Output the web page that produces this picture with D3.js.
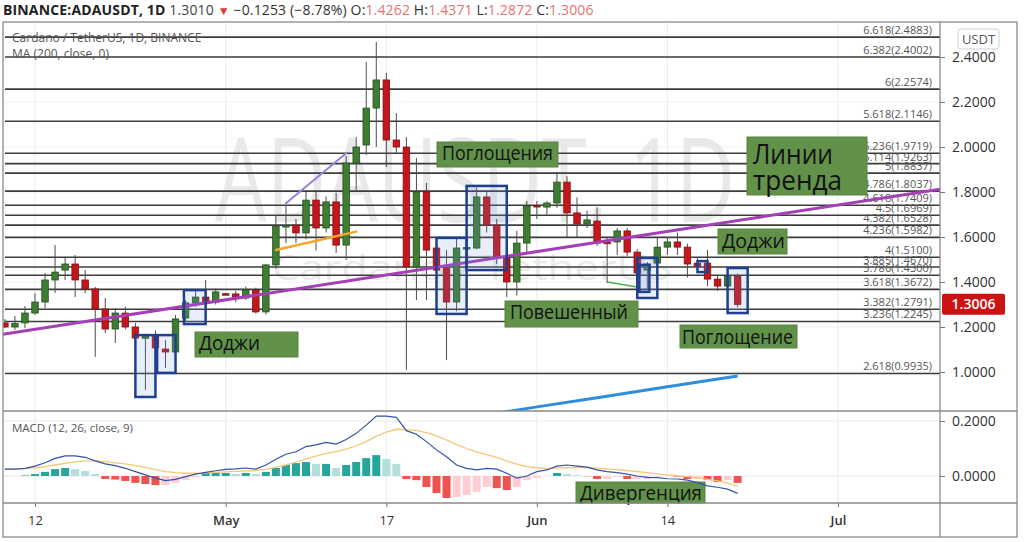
<!DOCTYPE html>
<html lang="en">
<head>
<meta charset="utf-8">
<script src="https://cdn.jsdelivr.net/npm/d3@7"></script>
<style>
  body { margin: 0; background: #fff; }
  svg { display: block; font-family: "Open Sans", "Noto Sans", sans-serif; }
</style>
</head>
<body>
<svg id="chart" width="1024" height="542"></svg>
<script>
// ---- data (ADAUSDT, 1D, Apr 9 .. Jun 21 2021) ----
const firstDay = "2021-04-09", lastDay = "2021-06-21";

const opens = [
  1.218, 1.200, 1.218, 1.262, 1.311, 1.409, 1.453, 1.480, 1.409, 1.369, 1.280, 1.191, 1.262, 1.200, 1.150, 1.164, 1.102, 1.089, 1.240, 1.307, 1.333, 1.311,
  1.348, 1.347, 1.329, 1.364, 1.267, 1.476, 1.649, 1.653, 1.618, 1.764, 1.640, 1.756, 1.564, 1.929, 2.009, 2.173, 2.298, 2.031, 2.000, 1.467, 1.800, 1.551, 1.462, 1.311, 1.551, 1.551, 1.778, 1.653, 1.507, 1.400, 1.573,
  1.740, 1.733, 1.751, 1.844, 1.707, 1.658, 1.671, 1.577, 1.578, 1.627, 1.533, 1.453, 1.484, 1.555, 1.578, 1.555, 1.484, 1.484, 1.413, 1.382, 1.4262
];
const highs = [
  1.235, 1.249, 1.293, 1.351, 1.440, 1.564, 1.507, 1.520, 1.453, 1.378, 1.329, 1.284, 1.290, 1.218, 1.170, 1.185, 1.142, 1.253, 1.320, 1.360, 1.409, 1.370,
  1.352, 1.360, 1.380, 1.375, 1.480, 1.698, 1.742, 1.680, 1.800, 1.800, 1.780, 1.796, 1.960, 2.044, 2.378, 2.467, 2.329, 2.151, 2.044, 1.951, 1.840, 1.600, 1.542, 1.600, 1.560, 1.820, 1.800, 1.680, 1.520, 1.627, 1.760,
  1.760, 1.760, 1.890, 1.870, 1.776, 1.716, 1.733, 1.600, 1.640, 1.640, 1.545, 1.489, 1.595, 1.600, 1.620, 1.570, 1.510, 1.542, 1.430, 1.440, 1.4371
];
const lows = [
  1.195, 1.187, 1.196, 1.255, 1.284, 1.351, 1.409, 1.333, 1.351, 1.067, 1.173, 1.129, 1.190, 1.140, 0.920, 1.095, 1.018, 1.080, 1.225, 1.290, 1.300, 1.300,
  1.342, 1.310, 1.320, 1.260, 1.255, 1.460, 1.573, 1.573, 1.590, 1.540, 1.620, 1.529, 1.498, 1.809, 1.964, 2.000, 1.911, 1.973, 1.009, 1.320, 1.320, 1.400, 1.053, 1.270, 1.545, 1.545, 1.620, 1.480, 1.333, 1.340, 1.530,
  1.680, 1.700, 1.730, 1.600, 1.600, 1.640, 1.560, 1.395, 1.520, 1.515, 1.430, 1.364, 1.450, 1.520, 1.520, 1.420, 1.440, 1.382, 1.360, 1.330, 1.2872
];
const closes = [
  1.200, 1.215, 1.262, 1.311, 1.409, 1.444, 1.480, 1.409, 1.369, 1.280, 1.191, 1.262, 1.200, 1.151, 1.162, 1.107, 1.089, 1.236, 1.307, 1.333, 1.307, 1.356,
  1.346, 1.329, 1.364, 1.267, 1.476, 1.649, 1.651, 1.618, 1.764, 1.640, 1.756, 1.564, 1.929, 2.000, 2.173, 2.298, 2.031, 2.000, 1.467, 1.800, 1.542, 1.453, 1.311, 1.551, 1.553, 1.778, 1.653, 1.507, 1.400, 1.573, 1.738,
  1.736, 1.751, 1.844, 1.707, 1.658, 1.676, 1.573, 1.570, 1.627, 1.533, 1.440, 1.480, 1.555, 1.578, 1.555, 1.480, 1.470, 1.413, 1.382, 1.4262, 1.3006
];

const macdLine = [
  0.025, 0.025, 0.028, 0.036, 0.048, 0.064, 0.073, 0.073, 0.068, 0.055, 0.044, 0.038, 0.028, 0.016, 0.004, -0.008, -0.017, -0.012, -0.002, 0.007, 0.013, 0.019,
  0.024, 0.026, 0.029, 0.025, 0.040, 0.061, 0.079, 0.088, 0.107, 0.113, 0.122, 0.116, 0.133, 0.155, 0.185, 0.218, 0.218, 0.213, 0.165, 0.152, 0.125, 0.095, 0.070, 0.040, 0.028, 0.022, 0.028, 0.025, 0.010, -0.008, 0.000,
  0.016, 0.022, 0.036, 0.040, 0.036, 0.032, 0.022, 0.016, 0.012, 0.007, 0.000, -0.005, -0.006, -0.010, -0.011, -0.015, -0.024, -0.036, -0.041, -0.048, -0.063
];
const signalLine = [
  0.025, 0.026, 0.027, 0.030, 0.034, 0.040, 0.046, 0.051, 0.055, 0.055, 0.052, 0.048, 0.044, 0.038, 0.031, 0.023, 0.016, 0.012, 0.010, 0.010, 0.011, 0.013,
  0.015, 0.017, 0.019, 0.020, 0.024, 0.031, 0.040, 0.050, 0.062, 0.072, 0.082, 0.089, 0.098, 0.110, 0.125, 0.144, 0.160, 0.170, 0.169, 0.166, 0.158, 0.146, 0.131, 0.114, 0.100, 0.088, 0.078, 0.068, 0.055, 0.043, 0.034,
  0.030, 0.028, 0.029, 0.030, 0.031, 0.031, 0.029, 0.026, 0.023, 0.020, 0.016, 0.012, 0.008, 0.004, 0.001, -0.002, -0.007, -0.012, -0.018, -0.025, -0.038
];
const macdHist = [
  -0.002, -0.001, 0.002, 0.007, 0.015, 0.025, 0.029, 0.025, 0.018, 0.007, -0.011, -0.013, -0.018, -0.025, -0.029, -0.033, -0.033, -0.025, -0.015, -0.004, 0.011, 0.011,
  0.011, 0.007, 0.011, 0.007, 0.015, 0.029, 0.040, 0.047, 0.051, 0.044, 0.044, 0.029, 0.040, 0.051, 0.065, 0.076, 0.062, 0.044, -0.011, -0.015, -0.040, -0.062, -0.080, -0.076, -0.069, -0.058, -0.040, -0.044, -0.051, -0.040, -0.015,
  -0.007, 0.000, 0.011, 0.007, 0.003, -0.001, -0.011, -0.011, -0.003, -0.011, -0.011, -0.011, -0.002, -0.001, -0.002, -0.011, -0.011, -0.015, -0.022, -0.015, -0.025
];

// MA(200) visible at the bottom of the price pane
const maDates = ["2021-05-27", "2021-06-01", "2021-06-07", "2021-06-14", "2021-06-21"];
const maValues = [0.810, 0.845, 0.886, 0.934, 0.982];

// fibonacci extension levels
const fibRatios = ["6.618", "6.382", "6", "5.618", "5.236", "5.114", "5", "4.786", "4.618", "4.5", "4.382", "4.236", "4", "3.885", "3.786", "3.618", "3.382", "3.236", "2.618"];
const fibPrices = [2.4883, 2.4002, 2.2574, 2.1146, 1.9719, 1.9263, 1.8837, 1.8037, 1.7409, 1.6969, 1.6528, 1.5982, 1.5100, 1.4670, 1.4300, 1.3672, 1.2791, 1.2245, 0.9935];

const priceTicks = [1.0, 1.2, 1.4, 1.6, 1.8, 2.0, 2.2, 2.4];
const macdTicks = [0, 0.2];
const timeTicks = ["2021-04-12", "2021-05-01", "2021-05-17", "2021-06-01", "2021-06-14", "2021-07-01"];
const timeLabels = ["12", "May", "17", "Jun", "14", "Jul"];

// drawings on the chart: [date, price] end points
const trendLine = [["2021-04-08", 1.162], ["2021-07-12", 1.818]];
const orangeLine = [["2021-05-06", 1.542], ["2021-05-14", 1.624]];
const lavenderLine = [["2021-05-07", 1.750], ["2021-05-13", 1.972]];
const greenTick = [["2021-06-08", 1.400], ["2021-06-11", 1.378]];
// highlight boxes: [from, to, top price, bottom price]
const boxes = [
  ["2021-04-22", "2021-04-24", 1.164, 0.889],
  ["2021-04-24T04:00Z", "2021-04-26", 1.164, 0.996],
  ["2021-04-26T20:00Z", "2021-04-29", 1.364, 1.213],
  ["2021-05-22", "2021-05-25", 1.596, 1.258],
  ["2021-05-25", "2021-05-29", 1.827, 1.453],
  ["2021-06-11", "2021-06-13", 1.507, 1.329],
  ["2021-06-11T05:00Z", "2021-06-12T05:00Z", 1.476, 1.356],
  ["2021-06-17", "2021-06-18", 1.493, 1.444],
  ["2021-06-20", "2021-06-22", 1.462, 1.262]
];

// ---- layout ----
const svg = d3.select("#chart");
const L = 3, R = 940, OUTR = 1017, TOP = 22, MAINB = 411, MACDB = 503, BOT = 537;

const days = d3.utcDay.range(d3.isoParse(firstDay), d3.utcDay.offset(d3.isoParse(lastDay), 1));
const x = d3.scaleUtc().domain([d3.isoParse("2021-04-12"), d3.isoParse("2021-07-01")]).range([35, 838]);
const y = d3.scaleLinear().domain([1.0, 2.4]).range([372, 57]);
const ym = d3.scaleLinear().domain([0, 0.2]).range([476, 421]);

const defs = svg.append("defs");
defs.append("clipPath").attr("id", "clipMain").append("rect")
  .attr("x", L).attr("y", TOP).attr("width", R - L).attr("height", MAINB - TOP);
defs.append("clipPath").attr("id", "clipMacd").append("rect")
  .attr("x", L).attr("y", MAINB).attr("width", R - L).attr("height", MACDB - MAINB);

svg.append("rect").attr("width", 1024).attr("height", 542).attr("fill", "#fff");

// header
const head = svg.append("text").attr("x", 3).attr("y", 15).attr("font-size", 14).attr("fill", "#222")
  .attr("letter-spacing", 0.15);
head.append("tspan").attr("font-weight", 700).text("BINANCE:ADAUSDT, 1D");
head.append("tspan").attr("fill", "#444").text("  1.3010 ");
head.append("tspan").attr("fill", "#e53935").attr("font-size", 12).text("▼");
head.append("tspan").attr("fill", "#333").text(" −0.1253 (−8.78%) ");
[["O:", "1.4262"], ["H:", "1.4371"], ["L:", "1.2872"], ["C:", "1.3006"]].forEach(([k, v]) => {
  head.append("tspan").attr("fill", "#333").text(" " + k);
  head.append("tspan").attr("fill", "#e57373").text(v);
});

// grid
const grid = svg.append("g");
timeTicks.forEach(t => {
  grid.append("line").attr("x1", x(d3.isoParse(t))).attr("x2", x(d3.isoParse(t)))
    .attr("y1", TOP).attr("y2", MACDB).attr("stroke", "#ececec");
});
priceTicks.forEach(p => {
  grid.append("line").attr("x1", L).attr("x2", R).attr("y1", y(p)).attr("y2", y(p)).attr("stroke", "#f0f0f0");
});
macdTicks.forEach(v => {
  grid.append("line").attr("x1", L).attr("x2", R).attr("y1", ym(v)).attr("y2", ym(v)).attr("stroke", "#ececec");
});

// main pane
const main = svg.append("g").attr("clip-path", "url(#clipMain)");

main.append("text").attr("x", 215).attr("y", 222).attr("font-size", 118)
  .attr("textLength", 520).attr("lengthAdjust", "spacingAndGlyphs")
  .attr("fill", "#e9e9e9").text("ADAUSDT, 1D");
main.append("text").attr("x", 272).attr("y", 280).attr("font-size", 34)
  .attr("textLength", 400).attr("lengthAdjust", "spacingAndGlyphs")
  .attr("fill", "#eaeaea").text("Cardano / TetherUS");

// fib levels
const fib = main.append("g");
fibPrices.forEach((p, i) => {
  fib.append("line").attr("x1", L + 2).attr("x2", R).attr("y1", y(p)).attr("y2", y(p))
    .attr("stroke", "#3c3c3c").attr("stroke-width", 1.6);
  fib.append("text").attr("x", R - 8).attr("y", y(p) - 3).attr("text-anchor", "end")
    .attr("font-size", 11).attr("fill", "#555").text(`${fibRatios[i]}(${p.toFixed(4)})`);
});

// legend
svg.append("text").attr("x", 12).attr("y", 42).attr("font-size", 12).attr("fill", "#555")
  .text("Cardano / TetherUS, 1D, BINANCE");
svg.append("text").attr("x", 12).attr("y", 58).attr("font-size", 12).attr("fill", "#555")
  .text("MA (200, close, 0)");

// MA 200
const pt = d => [x(d3.isoParse(d[0])), y(d[1])];
main.append("path")
  .attr("d", d3.line()(maDates.map((d, i) => pt([d, maValues[i]]))))
  .attr("fill", "none").attr("stroke", "#2f8ddb").attr("stroke-width", 3);

// candles
const bw = 6.5;
const candles = main.append("g");
days.forEach((d, i) => {
  const cx = x(d), up = closes[i] >= opens[i];
  candles.append("line").attr("x1", cx).attr("x2", cx).attr("y1", y(highs[i])).attr("y2", y(lows[i]))
    .attr("stroke", "#4d4d4d").attr("stroke-width", 1);
  const y0 = y(Math.max(opens[i], closes[i])), y1 = y(Math.min(opens[i], closes[i]));
  candles.append("rect").attr("x", cx - bw / 2).attr("y", y0).attr("width", bw).attr("height", Math.max(1.5, y1 - y0))
    .attr("fill", up ? "#3f7d33" : "#c4161c").attr("stroke", up ? "#24501d" : "#86100f").attr("stroke-width", 0.8);
});

// drawings
const drawLine = (pts, color, w) => main.append("path").attr("d", d3.line()(pts.map(pt)))
  .attr("fill", "none").attr("stroke", color).attr("stroke-width", w).attr("stroke-linecap", "round");
drawLine(trendLine, "#a43fb6", 3);
drawLine(orangeLine, "#f4a62a", 2.5);
drawLine(lavenderLine, "#9a7fdc", 2);
drawLine(greenTick, "#4caf50", 1.5);

boxes.forEach(b => {
  const x0 = x(d3.isoParse(b[0])), x1 = x(d3.isoParse(b[1]));
  main.append("rect").attr("x", x0).attr("y", y(b[2])).attr("width", x1 - x0).attr("height", y(b[3]) - y(b[2]))
    .attr("fill", "rgba(110,150,225,0.16)").attr("stroke", "#1f3f8f").attr("stroke-width", 2.5);
});

// green callouts (layout positions)
const callouts = [
  { box: [195, 332, 103, 25], lines: [["Доджи", 199, 350, 61, 20]] },
  { box: [437, 142, 121, 25], lines: [["Поглощения", 442, 160, 111, 20]] },
  { box: [505, 301, 133, 26], lines: [["Повешенный", 510, 319, 118, 20]] },
  { box: [718, 229, 69, 25], lines: [["Доджи", 722, 248, 63, 20]] },
  { box: [680, 325, 117, 23], lines: [["Поглощение", 682, 344, 111, 20]] },
  { box: [747, 137, 120, 58], lines: [["Линии", 753, 164, 80, 28], ["тренда", 753, 190, 89, 28]] },
  { box: [576, 482, 129, 21], lines: [["Дивергенция", 580, 500, 122, 20]] }
];
callouts.forEach(c => {
  const g = svg.append("g");
  g.append("rect").attr("x", c.box[0]).attr("y", c.box[1]).attr("width", c.box[2]).attr("height", c.box[3])
    .attr("fill", "#62924a").attr("stroke", "#57843f").attr("stroke-width", 1);
  c.lines.forEach(([t, tx, ty, tl, fs]) => {
    g.append("text").attr("x", tx).attr("y", ty).attr("font-size", fs)
      .attr("textLength", tl).attr("lengthAdjust", "spacingAndGlyphs").attr("fill", "#111").text(t);
  });
});

// MACD pane
const macd = svg.append("g").attr("clip-path", "url(#clipMacd)");
macd.append("g").selectAll("rect").data(macdHist).join("rect")
  .attr("x", (v, i) => x(days[i]) - 4).attr("width", 8)
  .attr("y", v => Math.min(ym(v), ym(0))).attr("height", v => Math.abs(ym(v) - ym(0)))
  .attr("fill", (v, i) => {
    const prev = i > 0 ? macdHist[i - 1] : v;
    if (v >= 0) return v >= prev ? "#26a69a" : "#b2dfdb";
    return v < prev ? "#ef5350" : "#ffcdd2";
  });
const mline = d3.line().x((v, i) => x(days[i])).y(v => ym(v));
macd.append("path").attr("d", mline(signalLine)).attr("fill", "none").attr("stroke", "#f6c677").attr("stroke-width", 1.3);
macd.append("path").attr("d", mline(macdLine)).attr("fill", "none").attr("stroke", "#3552a8").attr("stroke-width", 1.2);
svg.append("text").attr("x", 12).attr("y", 432).attr("font-size", 11.5).attr("fill", "#555")
  .text("MACD (12, 26, close, 9)");

// axes
const yAxis = svg.append("g").attr("transform", `translate(${R},0)`)
  .call(d3.axisRight(y).tickValues(priceTicks).tickFormat(d3.format(".4f")).tickSize(5).tickPadding(7));
const mAxis = svg.append("g").attr("transform", `translate(${R},0)`)
  .call(d3.axisRight(ym).tickValues(macdTicks).tickFormat(d3.format(".4f")).tickSize(5).tickPadding(7));
const xAxis = svg.append("g").attr("transform", `translate(0,${MACDB})`)
  .call(d3.axisBottom(x).tickValues(timeTicks.map(d3.isoParse))
    .tickFormat((d, i) => timeLabels[i]).tickSize(4).tickPadding(9));
[yAxis, mAxis, xAxis].forEach(a => {
  a.select(".domain").remove();
  a.selectAll(".tick line").attr("stroke", "#777");
  a.selectAll("text").attr("fill", "#333").attr("font-family", "Open Sans, sans-serif");
});
yAxis.selectAll("text").attr("font-size", 14);
mAxis.selectAll("text").attr("font-size", 14);
xAxis.selectAll("text").attr("font-size", 13)
  .attr("font-weight", (d, i) => /[A-Za-z]/.test(timeLabels[i]) ? 600 : 400);

// frame
const frame = svg.append("g").attr("stroke", "#8a8a8a").attr("stroke-width", 1.3).attr("fill", "none");
frame.append("rect").attr("x", L).attr("y", TOP).attr("width", OUTR - L).attr("height", BOT - TOP);
frame.append("line").attr("x1", R).attr("x2", R).attr("y1", TOP).attr("y2", BOT);
frame.append("line").attr("x1", L).attr("x2", OUTR).attr("y1", MAINB).attr("y2", MAINB);
frame.append("line").attr("x1", L).attr("x2", OUTR).attr("y1", MACDB).attr("y2", MACDB);

// currency badge and last price
svg.append("rect").attr("x", 958).attr("y", 29).attr("width", 41).attr("height", 20).attr("rx", 3)
  .attr("fill", "#fff").attr("stroke", "#d0d0d0");
svg.append("text").attr("x", 978.5).attr("y", 44).attr("text-anchor", "middle").attr("font-size", 13)
  .attr("fill", "#555").text("USDT");
const last = closes[closes.length - 1];
svg.append("rect").attr("x", 942).attr("y", y(last) - 10.5).attr("width", 63).attr("height", 21).attr("rx", 2)
  .attr("fill", "#cc1212");
svg.append("text").attr("x", 973.5).attr("y", y(last) + 5).attr("text-anchor", "middle").attr("font-size", 14)
  .attr("font-weight", 600).attr("fill", "#fff").text(last.toFixed(4));
</script>
</body>
</html>
